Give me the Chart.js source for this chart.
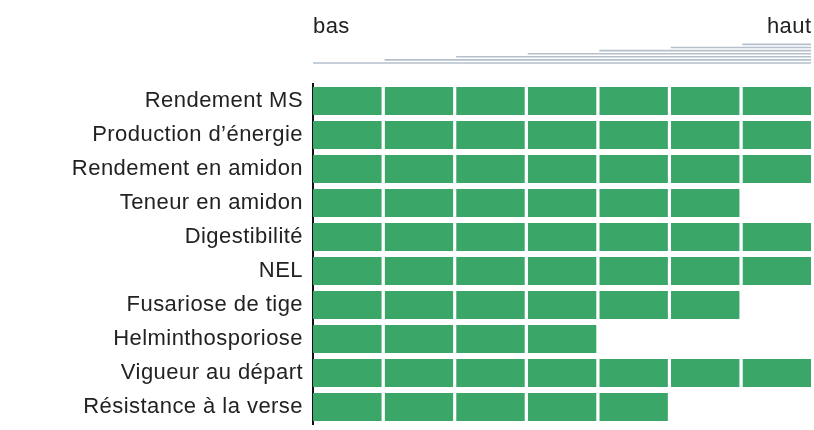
<!DOCTYPE html>
<html>
<head>
<meta charset="utf-8">
<script src="https://cdn.jsdelivr.net/npm/chart.js@4.4.1/dist/chart.umd.min.js"></script>
<style>
  html, body { margin: 0; padding: 0; background: #fff; }
  #wrap { width: 814px; height: 430px; }
</style>
</head>
<body>
<div id="wrap"><canvas id="chart" width="814" height="430"></canvas></div>
<script>
// criteres et nombre de cases (echelle 1..7)
const categories = [
    'Rendement MS',
    'Production d’énergie',
    'Rendement en amidon',
    'Teneur en amidon',
    'Digestibilité',
    'NEL',
    'Fusariose de tige',
    'Helminthosporiose',
    'Vigueur au départ',
    'Résistance à la verse'
];
const values = [7, 7, 7, 6, 7, 7, 6, 4, 7, 5];
const steps = [1, 2, 3, 4, 5, 6, 7];
const scaleLabels = ['bas', 'haut'];

const green = '#3aa667';
const textColor = '#222';
const fontFamily = '"Liberation Sans", Arial, Helvetica, sans-serif';

// une serie par case, empilees
const datasets = steps.map((s) => ({
    data: values.map(v => v >= s ? 1 : null),
    backgroundColor: green,
    borderColor: '#fff',
    borderWidth: { top: 0, bottom: 0, left: 0, right: 3 },
    borderSkipped: false,
    barPercentage: 0.82,
    categoryPercentage: 1
}));

// texte un peu plus large dans l'original
const spacing = {
    id: 'spacing',
    beforeDraw(chart) {
        chart.ctx.letterSpacing = '0.45px';
    }
};

// echelle bas -> haut en haut du graphique
const wedge = {
    id: 'wedge',
    afterDraw(chart) {
        const ctx = chart.ctx;
        const x = chart.scales.x;
        const end = x.getPixelForValue(steps.length) - 3;
        ctx.save();
        ctx.strokeStyle = '#b5c0cd';
        ctx.lineWidth = 1.6;
        steps.forEach((s, k) => {
            const y = 63 - k * 3.1;
            ctx.beginPath();
            ctx.moveTo(x.getPixelForValue(s - 1), y);
            ctx.lineTo(end, y);
            ctx.stroke();
        });
        ctx.fillStyle = textColor;
        ctx.font = '22px ' + fontFamily;
        ctx.letterSpacing = '0.45px';
        ctx.textBaseline = 'alphabetic';
        ctx.textAlign = 'left';
        ctx.fillText(scaleLabels[0], x.getPixelForValue(0), 32.5);
        ctx.textAlign = 'right';
        ctx.fillText(scaleLabels[1], end + 0.5, 32.5);
        ctx.restore();
    }
};

const ctx = document.getElementById('chart').getContext('2d');
const chart = new Chart(ctx, {
    type: 'bar',
    data: { labels: categories, datasets: datasets },
    options: {
        indexAxis: 'y',
        responsive: false,
        animation: false,
        layout: { padding: { top: 84, bottom: 6, left: 0, right: -2 } },
        plugins: {
            legend: { display: false },
            tooltip: { enabled: false }
        },
        scales: {
            x: {
                stacked: true,
                min: 0,
                max: steps.length,
                display: false
            },
            y: {
                stacked: true,
                grid: { display: false, drawTicks: false },
                border: { display: true, color: '#111', width: 2 },
                ticks: {
                    color: textColor,
                    padding: 10,
                    font: { family: fontFamily, size: 22 }
                },
                afterFit(scale) {
                    scale.width = 313;
                    scale.paddingTop = 0;
                    scale.paddingBottom = 0;
                }
            }
        }
    },
    plugins: [spacing, wedge]
});
</script>
</body>
</html>
